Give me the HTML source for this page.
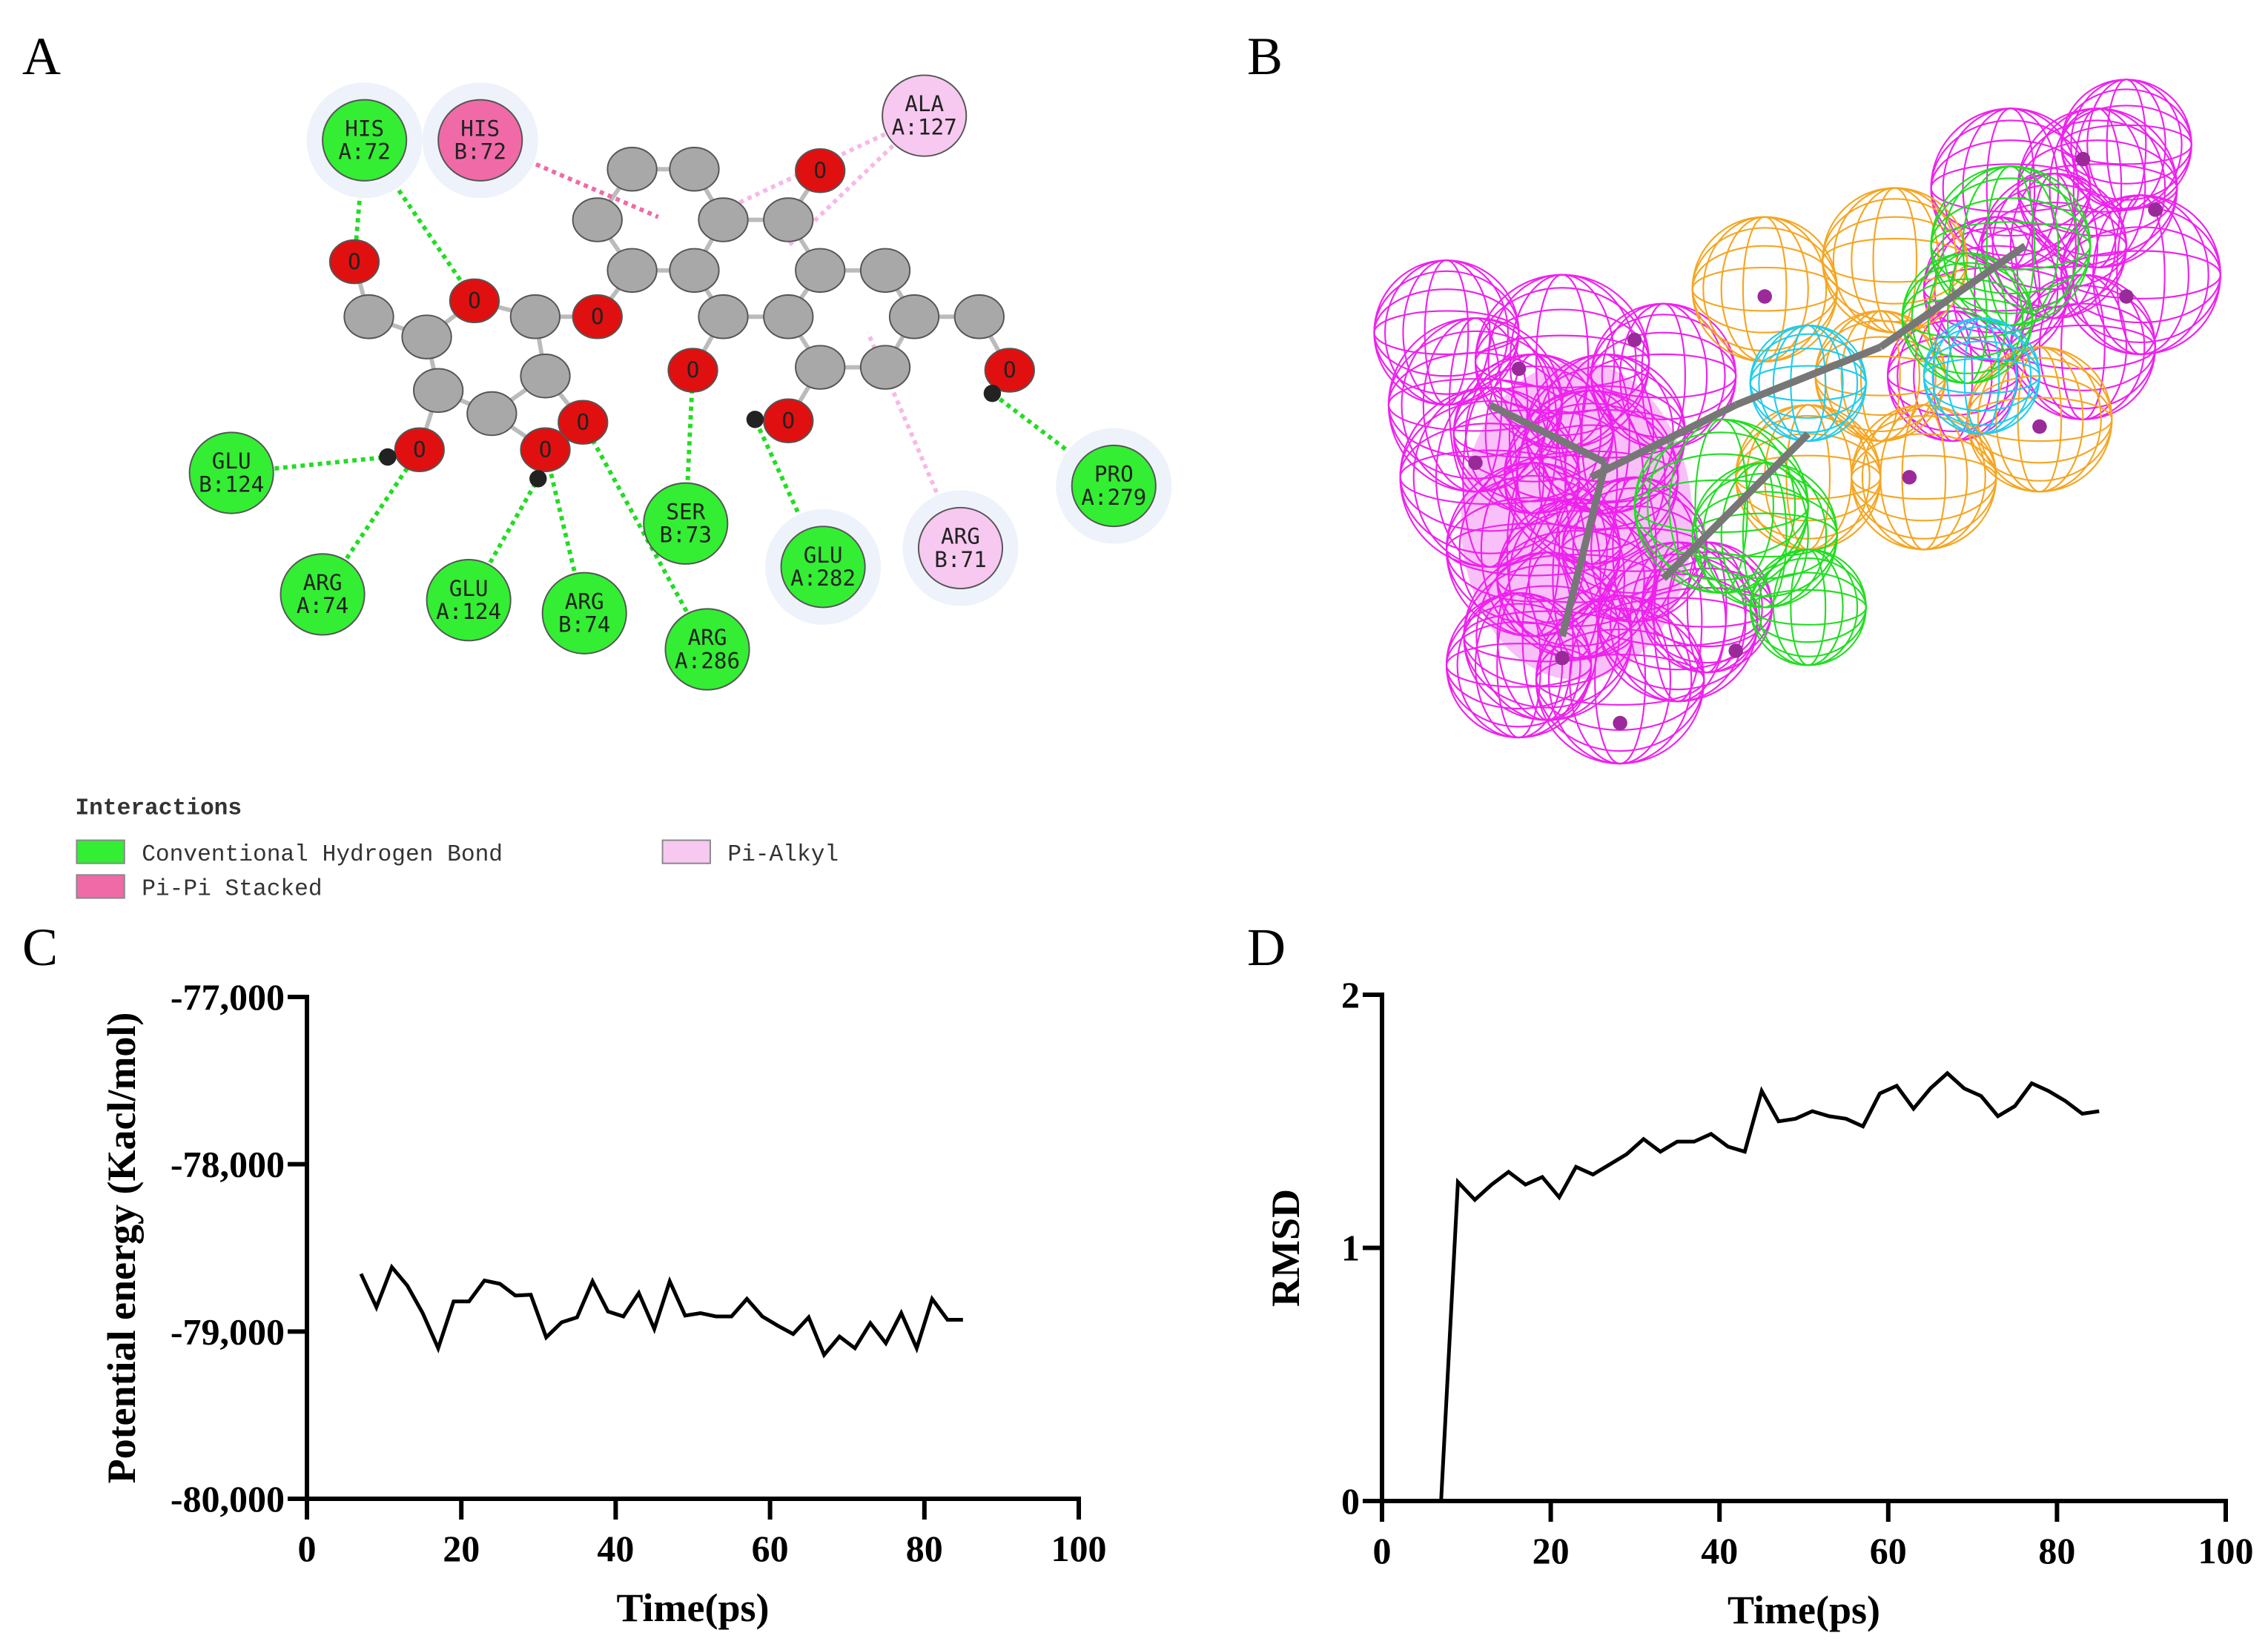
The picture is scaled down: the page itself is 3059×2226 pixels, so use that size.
<!DOCTYPE html>
<html><head><meta charset="utf-8"><style>
html,body{margin:0;padding:0;background:#fff}
svg{display:block}
.tick{font-family:"Liberation Serif",serif;font-weight:bold;font-size:50px}
.ttl{font-family:"Liberation Serif",serif;font-weight:bold;font-size:54px}
.pl{font-family:"Liberation Serif",serif;font-size:72px}
.res{font-family:"DejaVu Sans Mono","Liberation Mono",monospace;font-size:15px;fill:#222}
.leg{font-family:"Liberation Mono",monospace;font-size:16px;fill:#333}
</style></head><body>
<svg id="fig" width="3059" height="2226" viewBox="0 0 3059 2226" xmlns="http://www.w3.org/2000/svg">
<text class="pl" x="30" y="100">A</text>
<text class="pl" x="1682" y="100">B</text>
<text class="pl" x="30" y="1302">C</text>
<text class="pl" x="1682" y="1302">D</text>
<g id="panelA" transform="scale(1.951)"></g>
<g id="panelB" transform="scale(1.951)"></g>
<g id="chartC"></g>
<g id="chartD"></g>
</svg>
<script>
// ---- Chart data ----
const timeC = [7,9,11,13,15,17,19,21,23,25,27,29,31,33,35,37,39,41,43,45,47,49,51,53,55,57,59,61,63,65,67,69,71,73,75,77,79,81,83,85];
const energyC = [-78655,-78855,-78615,-78725,-78890,-79100,-78820,-78820,-78695,-78715,-78785,-78780,-79035,-78945,-78915,-78700,-78880,-78910,-78770,-78985,-78700,-78905,-78890,-78910,-78910,-78805,-78910,-78965,-79015,-78915,-79140,-79030,-79100,-78950,-79070,-78890,-79100,-78805,-78930,-78930];
const timeD = [7,9,11,13,15,17,19,21,23,25,27,29,31,33,35,37,39,41,43,45,47,49,51,53,55,57,59,61,63,65,67,69,71,73,75,77,79,81,83,85];
const rmsdD = [0,1.26,1.19,1.25,1.30,1.25,1.28,1.20,1.32,1.29,1.33,1.37,1.43,1.38,1.42,1.42,1.45,1.40,1.38,1.62,1.50,1.51,1.54,1.52,1.51,1.48,1.61,1.64,1.55,1.63,1.69,1.63,1.60,1.52,1.56,1.65,1.62,1.58,1.53,1.54];
const xTicks = [0,20,40,60,80,100];
const yTicksC = [-77000,-78000,-79000,-80000];
const yTickLabelsC = ["-77,000","-78,000","-79,000","-80,000"];
const yTicksD = [0,1,2];
const yTickLabelsD = ["0","1","2"];

const NS="http://www.w3.org/2000/svg";
function mk(parent,tag,attrs){const e=document.createElementNS(NS,tag);for(const k in attrs)e.setAttribute(k,attrs[k]);parent.appendChild(e);return e;}

function drawChart(g,o){
  const sx=v=>o.x0+(v-o.xmin)/(o.xmax-o.xmin)*(o.x1-o.x0);
  const sy=v=>o.yb+(v-o.ymin)/(o.ymax-o.ymin)*(o.yt-o.yb);
  let a=mk(g,'line',{x1:o.x0,y1:o.yt-3,x2:o.x0,y2:o.yb+3,stroke:'#000','stroke-width':6});
  
  
  a=mk(g,'line',{x1:o.x0-3,y1:o.yb,x2:o.x1+3,y2:o.yb,stroke:'#000','stroke-width':6});
  
  
  xTicks.forEach(t=>{
    const x=sx(t);
    mk(g,'line',{x1:x,y1:o.yb,x2:x,y2:o.yb+28,stroke:'#000','stroke-width':6});
    const tx=mk(g,'text',{x:x,y:o.yb+84,'text-anchor':'middle',class:'tick'});
    tx.textContent=t;
    
    
  });
  o.yt_vals.forEach((v,i)=>{
    const y=sy(v);
    mk(g,'line',{x1:o.x0-26,y1:y,x2:o.x0,y2:y,stroke:'#000','stroke-width':6});
    const tx=mk(g,'text',{x:o.x0-30,y:y+17,'text-anchor':'end',class:'tick'});
    tx.textContent=o.yt_lab[i];
    
    
  });
  const p=o.xs.map((t,i)=>(i?'L':'M')+sx(t).toFixed(1)+','+sy(o.ys[i]).toFixed(1)).join(' ');
  const path=mk(g,'path',{d:p,fill:'none',stroke:'#000','stroke-width':5,'stroke-linejoin':'miter'});
  
  
  const xt=mk(g,'text',{x:(o.x0+o.x1)/2,y:o.yb+165,'text-anchor':'middle',class:'ttl'});
  xt.textContent='Time(ps)';
  
  
  const yt=mk(g,'text',{x:0,y:0,'text-anchor':'middle',class:'ttl',transform:`translate(${o.ytx},${(o.yt+o.yb)/2}) rotate(-90)`});
  yt.textContent=o.ytitle;
  
  
}
drawChart(document.getElementById('chartC'),{x0:414,x1:1455,yt:1345,yb:2022,xmin:0,xmax:100,ymin:-80000,ymax:-77000,xs:timeC,ys:energyC,yt_vals:yTicksC,yt_lab:yTickLabelsC,ytitle:'Potential energy (Kacl/mol)',ytx:182});
drawChart(document.getElementById('chartD'),{x0:1864,x1:3002,yt:1342,yb:2025,xmin:0,xmax:100,ymin:0,ymax:2,xs:timeD,ys:rmsdD,yt_vals:yTicksD,yt_lab:yTickLabelsD,ytitle:'RMSD',ytx:1752});

// ---- Panel A ----
const A=document.getElementById('panelA');
const bonds=[[245,181,255,219],[255,219,295,233],[295,233,328,208],[328,208,370,219],[370,219,377,260],[377,260,340,286],[340,286,303,270],[303,270,295,233],[370,219,413,219],[413,219,437,187],[437,187,413,152],[413,152,437,117],[437,117,480,117],[480,117,500,152],[500,152,480,187],[480,187,437,187],[480,187,500,219],[500,219,545,219],[545,219,567,187],[567,187,545,152],[545,152,500,152],[545,152,567,118],[567,187,612,187],[612,187,632,219],[632,219,677,219],[677,219,698,256],[632,219,612,254],[612,254,567,254],[567,254,545,219],[500,219,479,256],[567,254,545,291],[340,286,377,311],[377,260,403,292],[303,270,290,311]];
bonds.forEach(b=>mk(A,'line',{x1:b[0],y1:b[1],x2:b[2],y2:b[3],stroke:'#bbb','stroke-width':3}));
const grayAt=[[255,219],[295,233],[370,219],[303,270],[340,286],[377,260],[437,187],[480,187],[413,152],[437,117],[480,117],[500,152],[545,152],[567,187],[612,187],[500,219],[545,219],[567,254],[632,219],[677,219],[612,254]];
const redAt=[[245,181],[328,208],[413,219],[290,311],[377,311],[403,292],[479,256],[545,291],[698,256],[567,118]];
const hAt=[[268,316],[372,331],[522,290],[686,272]];
const lines=[[252,97,245,181,'#22dd22'],[252,97,328,208,'#22dd22'],[160,327,268,316,'#22dd22'],[223,411,290,311,'#22dd22'],[324,415,372,331,'#22dd22'],[404,424,377,311,'#22dd22'],[489,449,403,292,'#22dd22'],[474,362,479,256,'#22dd22'],[569,392,522,290,'#22dd22'],[770,336,686,272,'#22dd22'],[332,97,455,150,'#f06aa8'],[639,80,490,150,'#f7b8e8'],[639,80,545,170,'#f7b8e8'],[664,379,600,230,'#f7b8e8']];
lines.forEach(l=>mk(A,'line',{x1:l[0],y1:l[1],x2:l[2],y2:l[3],stroke:l[4],'stroke-width':3,'stroke-dasharray':'3,3'}));
grayAt.forEach(c=>mk(A,'ellipse',{cx:c[0],cy:c[1],rx:17,ry:15,fill:'#a8a8a8',stroke:'#555','stroke-width':1}));
redAt.forEach(c=>{mk(A,'ellipse',{cx:c[0],cy:c[1],rx:17,ry:15,fill:'#e01010',stroke:'#555','stroke-width':1});const t=mk(A,'text',{x:c[0],y:c[1]+5,'text-anchor':'middle',class:'res'});t.textContent='O';});
hAt.forEach(c=>mk(A,'circle',{cx:c[0],cy:c[1],r:6,fill:'#222'}));
const res=[[252,97,'HIS','A:72','#33ee33',1],[332,97,'HIS','B:72','#f06aa8',1],[639,80,'ALA','A:127','#f7c8f0',0],[160,327,'GLU','B:124','#33ee33',0],[223,411,'ARG','A:74','#33ee33',0],[324,415,'GLU','A:124','#33ee33',0],[404,424,'ARG','B:74','#33ee33',0],[489,449,'ARG','A:286','#33ee33',0],[474,362,'SER','B:73','#33ee33',0],[569,392,'GLU','A:282','#33ee33',1],[664,379,'ARG','B:71','#f7c8f0',1],[770,336,'PRO','A:279','#33ee33',1]];
res.forEach(r=>{
  const g=mk(A,'g',{});
  
  
  if(r[5])mk(g,'circle',{cx:r[0],cy:r[1],r:40,fill:'#eef2fb'});
  mk(g,'ellipse',{cx:r[0],cy:r[1],rx:29,ry:28,fill:r[4],stroke:'#555','stroke-width':1});
  let t=mk(g,'text',{x:r[0],y:r[1]-3,'text-anchor':'middle',class:'res'});t.textContent=r[2];
  t=mk(g,'text',{x:r[0],y:r[1]+13,'text-anchor':'middle',class:'res'});t.textContent=r[3];
});
let lt=mk(A,'text',{x:52,y:563,class:'leg','font-weight':'bold'});lt.textContent='Interactions';


[[53,581,'#33ee33','Conventional Hydrogen Bond'],[53,605,'#f06aa8','Pi-Pi Stacked'],[458,581,'#f7c8f0','Pi-Alkyl']].forEach(l=>{
  const g=mk(A,'g',{});
  
  
  mk(g,'rect',{x:l[0],y:l[1],width:33,height:16,fill:l[2],stroke:'#888','stroke-width':1});
  const t=mk(g,'text',{x:l[0]+45,y:l[1]+14,class:'leg'});t.textContent=l[3];
});

// ---- Panel B ----
const B=document.getElementById('panelB');
function sphere(cx,cy,r,col){
  const g=mk(B,'g',{fill:'none',stroke:col,'stroke-width':1.1});
  mk(g,'circle',{cx:cx,cy:cy,r:r});
  [0.3,0.6,0.85].forEach(f=>{mk(g,'ellipse',{cx:cx,cy:cy,rx:r*f,ry:r});mk(g,'ellipse',{cx:cx,cy:cy,rx:r,ry:r*f});});
}
const mag='#ee22ee',ora='#f5a623',grn='#22dd22',cyn='#22ccee';
mk(B,'ellipse',{cx:1090,cy:360,rx:80,ry:110,fill:'#f070f0',opacity:0.45});
[[1020,280,60],[1080,250,60],[1030,330,62],[1060,380,60],[1100,330,60],[1070,440,58],[1120,470,58],[1160,430,55],[1000,230,50],[1150,260,50],[1180,420,45],[1110,300,55],[1060,300,55],[1090,400,55],[1130,380,50],[1050,460,50]].forEach(s=>sphere(s[0],s[1],s[2],mag));
[[1390,130,55],[1450,130,55],[1480,190,55],[1440,240,50],[1380,200,50],[1470,100,45],[1350,260,45],[1420,170,50]].forEach(s=>sphere(s[0],s[1],s[2],mag));
[[1220,200,50],[1310,180,50],[1330,330,50],[1410,290,50],[1250,330,50],[1300,260,45]].forEach(s=>sphere(s[0],s[1],s[2],ora));
[[1190,350,60],[1220,370,50],[1390,170,55],[1360,220,45],[1250,420,40]].forEach(s=>sphere(s[0],s[1],s[2],grn));
[[1250,265,40],[1370,260,40]].forEach(s=>sphere(s[0],s[1],s[2],cyn));
[[1100,330,1200,280],[1200,280,1300,240],[1300,240,1400,170],[1150,400,1250,300],[1030,280,1110,320],[1110,320,1080,440]].forEach(l=>mk(B,'line',{x1:l[0],y1:l[1],x2:l[2],y2:l[3],stroke:'#777','stroke-width':5}));
[[1050,255],[1020,320],[1130,235],[1080,455],[1200,450],[1120,500],[1220,205],[1320,330],[1410,295],[1440,110],[1490,145],[1470,205]].forEach(c=>mk(B,'circle',{cx:c[0],cy:c[1],r:5,fill:'#9a2a9a'}));
</script>
</body></html>
